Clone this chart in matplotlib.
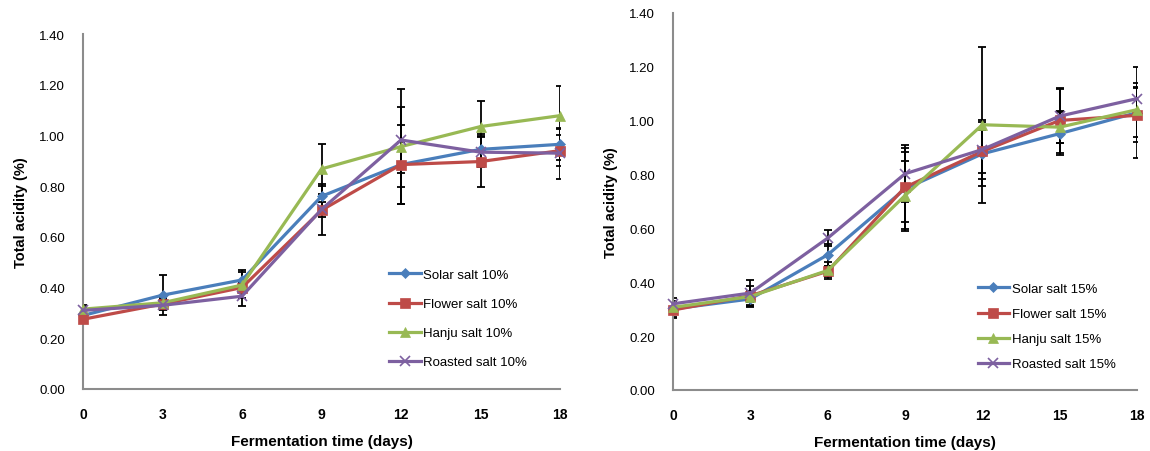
import matplotlib
matplotlib.use("Agg")
import matplotlib.pyplot as plt

days = [0, 3, 6, 9, 12, 15, 18]
day_labels = ["0", "3", "6", "9", "12", "15", "18"]

# 10% salt
solar10 = [0.29, 0.37, 0.43, 0.76, 0.885, 0.945, 0.965]
flower10 = [0.275, 0.335, 0.40, 0.705, 0.885, 0.897, 0.94]
hanju10 = [0.315, 0.34, 0.41, 0.868, 0.956, 1.035, 1.078]
roasted10 = [0.31, 0.33, 0.366, 0.708, 0.982, 0.934, 0.93]
solar10_err = [0.015, 0.08, 0.04, 0.05, 0.155, 0.06, 0.062]
flower10_err = [0.015, 0.02, 0.02, 0.096, 0.09, 0.10, 0.06]
hanju10_err = [0.015, 0.02, 0.05, 0.10, 0.227, 0.10, 0.116]
roasted10_err = [0.015, 0.02, 0.04, 0.03, 0.13, 0.06, 0.10]

# 15% salt
solar15 = [0.301, 0.338, 0.502, 0.747, 0.877, 0.952, 1.03]
flower15 = [0.297, 0.35, 0.441, 0.753, 0.886, 1.001, 1.02]
hanju15 = [0.307, 0.347, 0.444, 0.722, 0.985, 0.976, 1.041]
roasted15 = [0.32, 0.36, 0.564, 0.803, 0.893, 1.017, 1.082]
solar15_err = [0.03, 0.025, 0.04, 0.15, 0.12, 0.08, 0.17]
flower15_err = [0.03, 0.035, 0.02, 0.13, 0.08, 0.12, 0.10]
hanju15_err = [0.02, 0.02, 0.03, 0.13, 0.29, 0.06, 0.10]
roasted15_err = [0.02, 0.05, 0.03, 0.105, 0.11, 0.10, 0.043]

colors = ["#4A7EBB", "#BE4B48", "#98B954", "#7D60A0"]
markers = ["D", "s", "^", "x"]
msizes = [5, 7, 7, 7]

plt.rcParams['font.family'] = ['Liberation Sans', 'DejaVu Sans']

fig = plt.figure(figsize=(11.5, 4.52), dpi=100)

def draw(rect, series, errs, names):
    ax = fig.add_axes(rect)
    for vals, err, c, m, ms, nm in zip(series, errs, colors, markers, msizes, names):
        ax.errorbar(days, vals, yerr=err, fmt='none', ecolor='black', elinewidth=1.3,
                    capsize=3, capthick=1.3, zorder=2)
        ax.plot(days, vals, color=c, marker=m, markersize=ms, lw=2.3,
                markeredgewidth=1.2 if m == 'x' else 0.5, markeredgecolor=c,
                label=nm, zorder=3, clip_on=False)
    ax.set_xlim(0, 18)
    ax.set_ylim(0, 1.4)
    ax.set_xticks(days)
    ax.set_xticklabels(day_labels, fontweight='bold', fontsize=10)
    ax.set_yticks([0, 0.2, 0.4, 0.6, 0.8, 1.0, 1.2, 1.4])
    ax.set_yticklabels(["0.00", "0.20", "0.40", "0.60", "0.80", "1.00", "1.20", "1.40"], fontsize=9.5)
    ax.tick_params(length=0, pad=13)
    ax.tick_params(axis='x', pad=13)
    for s in ['top', 'right']:
        ax.spines[s].set_visible(False)
    for s in ['left', 'bottom']:
        ax.spines[s].set_color('#8C8C8C')
        ax.spines[s].set_linewidth(1.5)
    ax.set_ylabel("Total acidity (%)", fontweight='bold', fontsize=10.5, labelpad=8)
    ax.set_xlabel("Fermentation time (days)", fontweight='bold', fontsize=11, labelpad=9)
    return ax

ax1 = draw([83/1150, 62/452, 477/1150, 355/452],
           [solar10, flower10, hanju10, roasted10],
           [solar10_err, flower10_err, hanju10_err, roasted10_err],
           ["Solar salt 10%", "Flower salt 10%", "Hanju salt 10%", "Roasted salt 10%"])
ax1.legend(loc='upper left', bbox_to_anchor=(0.617, 0.372), frameon=False,
           fontsize=9.5, handlelength=2.4, labelspacing=1.28, handletextpad=0.2)

ax2 = draw([673/1150, 61/452, 464/1150, 377/452],
           [solar15, flower15, hanju15, roasted15],
           [solar15_err, flower15_err, hanju15_err, roasted15_err],
           ["Solar salt 15%", "Flower salt 15%", "Hanju salt 15%", "Roasted salt 15%"])
ax2.legend(loc='upper left', bbox_to_anchor=(0.631, 0.316), frameon=False,
           fontsize=9.5, handlelength=2.4, labelspacing=0.98, handletextpad=0.2)

fig.savefig("out.png", dpi=100)
